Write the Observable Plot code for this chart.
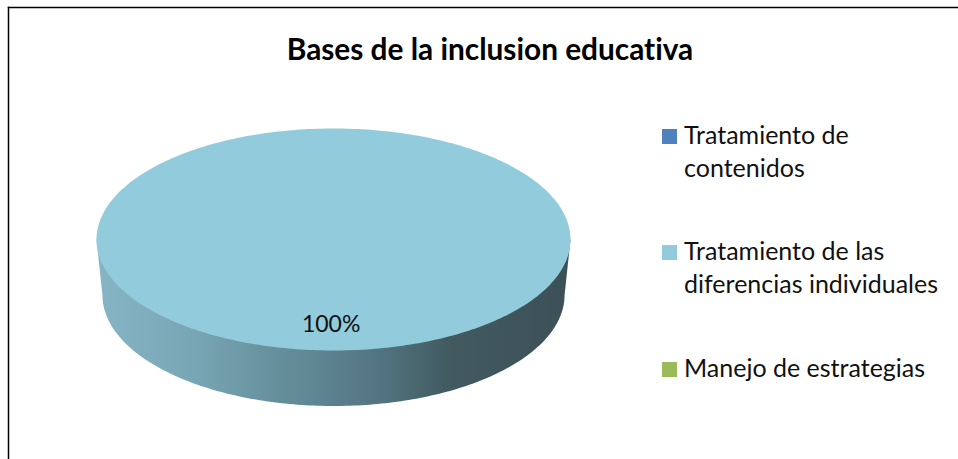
<!DOCTYPE html>
<html><head><meta charset="utf-8">
<script src="https://cdn.jsdelivr.net/npm/d3@7"></script>
<script src="https://cdn.jsdelivr.net/npm/@observablehq/plot@0.6"></script>
<style>
html,body{margin:0;padding:0;background:#fff;overflow:hidden}
#wrap{position:relative;width:958px;height:459px;font-family:Lato,sans-serif;color:#000;font-variant-ligatures:none}
#wrap svg{position:absolute;left:0;top:0}
#title{position:absolute;left:0;top:31px;width:980px;text-align:center;font-weight:700;font-size:29.8px;line-height:36px;white-space:nowrap}
.sw{position:absolute;left:662px;width:15px;height:15px}
.lb{position:absolute;left:684px;font-size:25px;line-height:33px;white-space:nowrap;color:#111}
</style></head><body><div id="wrap"></div>
<script>
const chartTitle = "Bases de la inclusion educativa";
const categories = ["Tratamiento de contenidos", "Tratamiento de las diferencias individuales", "Manejo de estrategias"];
const values = [0, 100, 0];
const colors = ["#4f81bd", "#92cbdb", "#9bbb59"];
const legendLines = [["Tratamiento de", "contenidos"], ["Tratamiento de las", "diferencias individuales"], ["Manejo de estrategias"]];
const legendTops = [129, 245, 362];
const sideStops = [[0, "#86b5c5"], [0.2, "#79a6b5"], [0.4, "#648d9a"], [0.6, "#527480"], [0.75, "#41595f"], [1, "#3c5157"]];
const depth = 0.5, rimScale = 0.975;

const arcs = d3.pie().sort(null).value(v => v)(values);
const sliceRows = arcs.flatMap((a, i) => {
  if (a.endAngle - a.startAngle <= 0) return [];
  const n = 360;
  return d3.range(n + 1).map(k => {
    const t = a.startAngle + (a.endAngle - a.startAngle) * k / n;
    return {category: categories[i], x: Math.cos(t), y: Math.sin(t)};
  });
});
const sideRows = [];
for (let k = 0; k <= 180; k++) {
  const t = Math.PI * k / 180;
  sideRows.push({x: rimScale * Math.cos(t), y: Math.sin(t) + depth});
}
sideRows.push({x: -1, y: 0}, {x: 1, y: 0});

const gradient = () => {
  const svg = d3.create("svg:defs");
  const g = svg.append("linearGradient").attr("id", "sideShade");
  g.selectAll("stop").data(sideStops).join("stop")
    .attr("offset", d => d[0]).attr("stop-color", d => d[1]);
  return svg.node();
};

const chart = Plot.plot({
  width: 958, height: 459,
  marginLeft: 8, marginTop: 7, marginRight: 0, marginBottom: 0,
  x: {domain: [-1, 1], range: [96, 570], axis: null},
  y: {domain: [-1, 1], range: [128, 350], axis: null},
  color: {domain: categories, range: colors},
  style: {background: "transparent"},
  marks: [
    gradient,
    Plot.frame({anchor: "top", stroke: "#000", strokeWidth: 1.5}),
    Plot.frame({anchor: "left", stroke: "#000", strokeWidth: 1.5}),
    Plot.line(sideRows, {x: "x", y: "y", fill: "url(#sideShade)", stroke: "none"}),
    Plot.line(sliceRows, {x: "x", y: "y", z: "category", fill: "category", stroke: "none"}),
    Plot.text([values[1]], {x: () => -0.01, y: () => 0.77, text: d => d + "%", fontSize: 23, fontFamily: "Lato", fill: "#111"})
  ]
});
const wrap = document.getElementById("wrap");
wrap.append(chart);
const t = document.createElement("div"); t.id = "title"; t.textContent = chartTitle; wrap.append(t);
categories.forEach((c, i) => {
  const s = document.createElement("div"); s.className = "sw";
  s.style.top = legendTops[i] + "px"; s.style.background = colors[i]; wrap.append(s);
  legendLines[i].forEach((ln, j) => {
    const d = document.createElement("div"); d.className = "lb";
    d.style.top = (legendTops[i] - 11 + j * 33) + "px"; d.textContent = ln; wrap.append(d);
  });
});
</script></body></html>
